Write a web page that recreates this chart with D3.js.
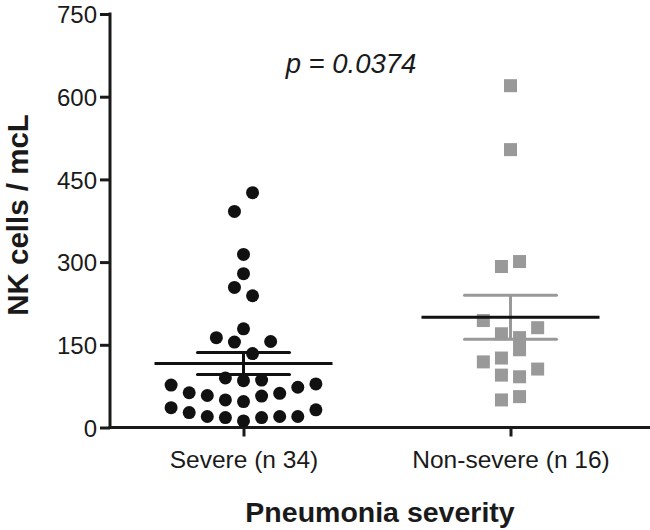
<!DOCTYPE html>
<html><head><meta charset="utf-8">
<script src="https://cdn.jsdelivr.net/npm/d3@7/dist/d3.min.js"></script>
<style>body{margin:0;background:#fff}svg{display:block}text{font-family:"Liberation Sans",Arial,sans-serif}</style>
</head><body><svg id="c" width="650" height="530"></svg>
<script>
const groups = ["Severe (n 34)", "Non-severe (n 16)"];
const severeValues = [426,392,314,279,254,239,179,163,155,156,134,90,85,86,77,73,79,63,58,50,47,57,62,36,27,20,18,12,18,20,20,32];
const severeSlot   = [0.5,-0.5,0,0,-0.5,0.5,0,-1.5,-0.5,1.5,0.5,-1,0,1,-4,3,4,-3,-2,-1,0,1,2,-4,-3,-2,-1,0,1,2,3,4];
const nonSevereValues = [620,504,292,301,194,170,181,163,141,119,126,106,95,92,50,56];
const nonSevereSlot   = [0,0,-0.5,0.5,-1.5,-0.5,1.5,0.5,0.5,-1.5,-0.5,1.5,-0.5,0.5,-0.5,0.5];
const meanValues = [116, 200];
const semValues = [20, 40];
const yTicks = [0,150,300,450,600,750];
const pLabel = "p = 0.0374";

const svg = d3.select("#c");
const y = d3.scaleLinear().domain([0,750]).range([427.5,14]);
const x = d3.scalePoint().domain(groups).range([110,644]).padding(0.5);
const slot = d3.scaleLinear().domain([0,1]).range([0,18.1]);

// y axis
const ya = svg.append("g").attr("transform","translate(110,0)")
  .call(d3.axisLeft(y).tickValues(yTicks).tickSize(10).tickPadding(3).tickFormat(d3.format("d")));
ya.select(".domain").remove();
ya.selectAll(".tick line").attr("stroke","#1a1a1a").attr("stroke-width",3);
ya.selectAll(".tick text").attr("font-size",24).attr("fill","#1a1a1a").attr("dy","0.36em");
svg.append("line").attr("x1",110).attr("x2",110).attr("y1",y(750)-1.5).attr("y2",y(0)+1.5)
  .attr("stroke","#1a1a1a").attr("stroke-width",3);

// x axis
svg.append("line").attr("x1",108.5).attr("x2",650).attr("y1",y(0)).attr("y2",y(0))
  .attr("stroke","#1a1a1a").attr("stroke-width",3);
const xa = svg.append("g").attr("transform",`translate(0,${y(0)})`)
  .call(d3.axisBottom(x).tickSize(9).tickPadding(14));
xa.select(".domain").remove();
xa.selectAll(".tick line").attr("stroke","#1a1a1a").attr("stroke-width",3);
xa.selectAll(".tick text").attr("font-size",24.5).attr("fill","#1a1a1a");

// points
const sx = x(groups[0]), nx = x(groups[1]);
svg.append("g").selectAll("circle").data(severeValues).join("circle")
  .attr("cx",(d,i)=>sx+slot(severeSlot[i])).attr("cy",d=>y(d)).attr("r",6.5).attr("fill","#111");
svg.append("g").selectAll("rect").data(nonSevereValues).join("rect")
  .attr("x",(d,i)=>nx+slot(nonSevereSlot[i])-6.5).attr("y",d=>y(d)-6.5)
  .attr("width",13).attr("height",13).attr("fill","#999999");

// mean and SEM
const semColors = ["#111","#999999"];
groups.forEach((g,i)=>{
  const cx = x(g), m = meanValues[i], s = semValues[i];
  const gg = svg.append("g");
  gg.append("line").attr("x1",cx).attr("x2",cx).attr("y1",y(m+s)).attr("y2",y(m-s))
    .attr("stroke",semColors[i]).attr("stroke-width",3);
  [m+s, m-s].forEach(v=>gg.append("line").attr("x1",cx-46).attr("x2",cx+46).attr("y1",y(v)).attr("y2",y(v))
    .attr("stroke",semColors[i]).attr("stroke-width",3).attr("stroke-linecap","round"));
  gg.append("line").attr("x1",cx-89).attr("x2",cx+89).attr("y1",y(m)).attr("y2",y(m))
    .attr("stroke","#111").attr("stroke-width",3);
});

// titles
svg.append("text").attr("x",351).attr("y",73).attr("text-anchor","middle")
  .attr("font-size",27.5).attr("font-style","italic").attr("fill","#1a1a1a").text(pLabel);
svg.append("text").attr("transform","translate(28,215) rotate(-90)").attr("text-anchor","middle")
  .attr("font-size",29.5).attr("font-weight","bold").attr("fill","#1a1a1a").text("NK cells / mcL");
svg.append("text").attr("x",380).attr("y",522).attr("text-anchor","middle")
  .attr("font-size",28.5).attr("font-weight","bold").attr("fill","#1a1a1a").text("Pneumonia severity");
</script></body></html>
